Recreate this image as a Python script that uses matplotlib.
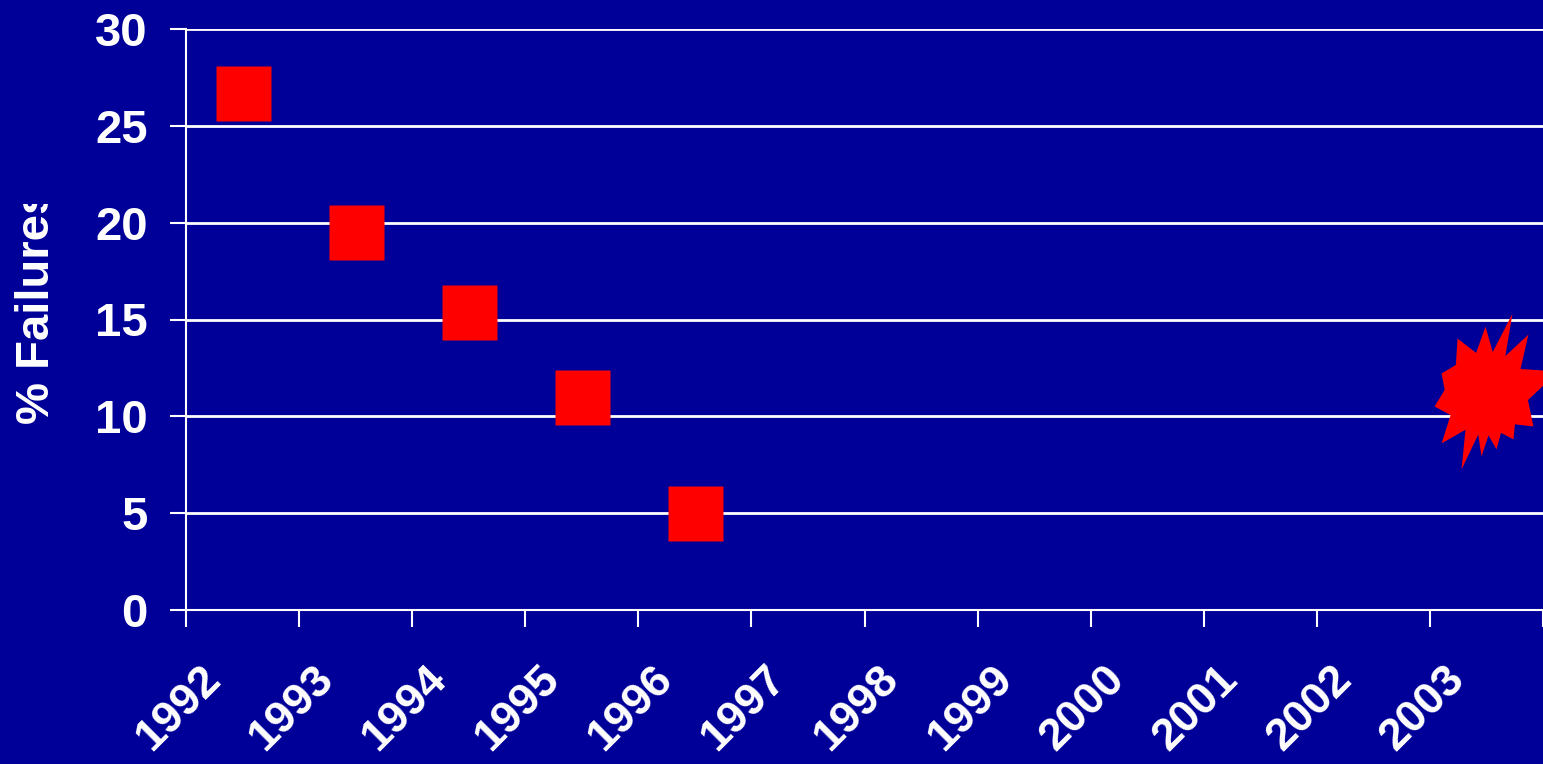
import matplotlib
matplotlib.use('Agg')
import matplotlib.pyplot as plt
import matplotlib.transforms as mtransforms
from matplotlib.path import Path
import numpy as np

years = ['1992', '1993', '1994', '1995', '1996', '1997',
         '1998', '1999', '2000', '2001', '2002', '2003']
failures = [26.7, 19.5, 15.4, 11.0, 5.0]
failures_2003 = 11.2
y_ticks = [0, 5, 10, 15, 20, 25, 30]

bg = '#000099'
plt.rcParams['font.family'] = ['Liberation Sans', 'DejaVu Sans']
plt.rcParams['font.weight'] = 'bold'

fig = plt.figure(figsize=(15.43, 7.64), dpi=100, facecolor=bg)
ax = fig.add_axes([186 / 1543, 1 - 610 / 764, 1 - 186 / 1543, (610 - 29) / 764])
ax.set_facecolor(bg)

ax.set_xlim(0, len(years))
ax.set_ylim(0, 30)

# gridlines and spines
ax.set_yticks(y_ticks)
ax.yaxis.grid(True, color='white', lw=2)
ax.set_axisbelow(True)
for s in ['top', 'right']:
    ax.spines[s].set_visible(False)
for s in ['left', 'bottom']:
    ax.spines[s].set_color('white')
    ax.spines[s].set_linewidth(1.5)

ax.tick_params(axis='y', colors='white', length=11.5, width=1.5, pad=16,
               labelsize=34)
ax.set_yticklabels([str(v) for v in y_ticks], fontweight='bold')

# major ticks on category edges, labels on the centres
ax.set_xticks(np.arange(len(years) + 1))
ax.set_xticklabels([])
ax.tick_params(axis='x', which='major', colors='white', length=12, width=1.5)
ax.set_xticks(np.arange(len(years)) + 0.5, minor=True)
ax.set_xticklabels(years, minor=True, rotation=45, ha='right', va='top',
                   fontsize=32.5, fontweight='bold', color='white')
ax.tick_params(axis='x', which='minor', length=0, pad=35)
shift = mtransforms.ScaledTranslation(-14 / 100, 0, fig.dpi_scale_trans)
for lab in ax.get_xticklabels(minor=True):
    lab.set_transform(lab.get_transform() + shift)

# squares for the measured years
x = np.arange(len(failures)) + 0.5
ax.plot(x, failures, 's', color='#FF0000', markersize=39.6, mec='none',
        clip_on=False, zorder=3)

# starburst for 2003
spikes = [(26, 80), (42, 59), (72, 22), (47, -33), (27, -46), (10, -56),
          (-5, -63), (-25, -76), (-45, -50), (-52, -13), (-45, 20),
          (-29, 55), (-1, 67)]
ang = [np.arctan2(sy, sx) for sx, sy in spikes]
verts = []
for i, (sx, sy) in enumerate(spikes):
    verts.append((sx, sy))
    a1 = ang[i]
    a2 = ang[(i + 1) % len(spikes)]
    d = (a2 - a1) % (2 * np.pi) - 2 * np.pi
    am = a1 + d / 2
    verts.append((42 * np.cos(am), 42 * np.sin(am)))
verts.append(verts[0])
star = Path(verts, closed=True)
ax.plot([len(years) - 0.5], [failures_2003], marker=star, color='#FF0000',
        markersize=115, mec='none', ls='none', clip_on=False, zorder=3)

# y label, cut off at the top
ylab = fig.text(37 / 1543, 1 - 306 / 764, '% Failures', rotation=90,
                ha='center', va='center', color='white', fontsize=34,
                fontweight='bold')
ylab.set_clip_box(mtransforms.Bbox([[0, 0], [120, 764 - 204]]))
ylab.set_clip_on(True)

fig.savefig('out.png', dpi=100, facecolor=bg)
